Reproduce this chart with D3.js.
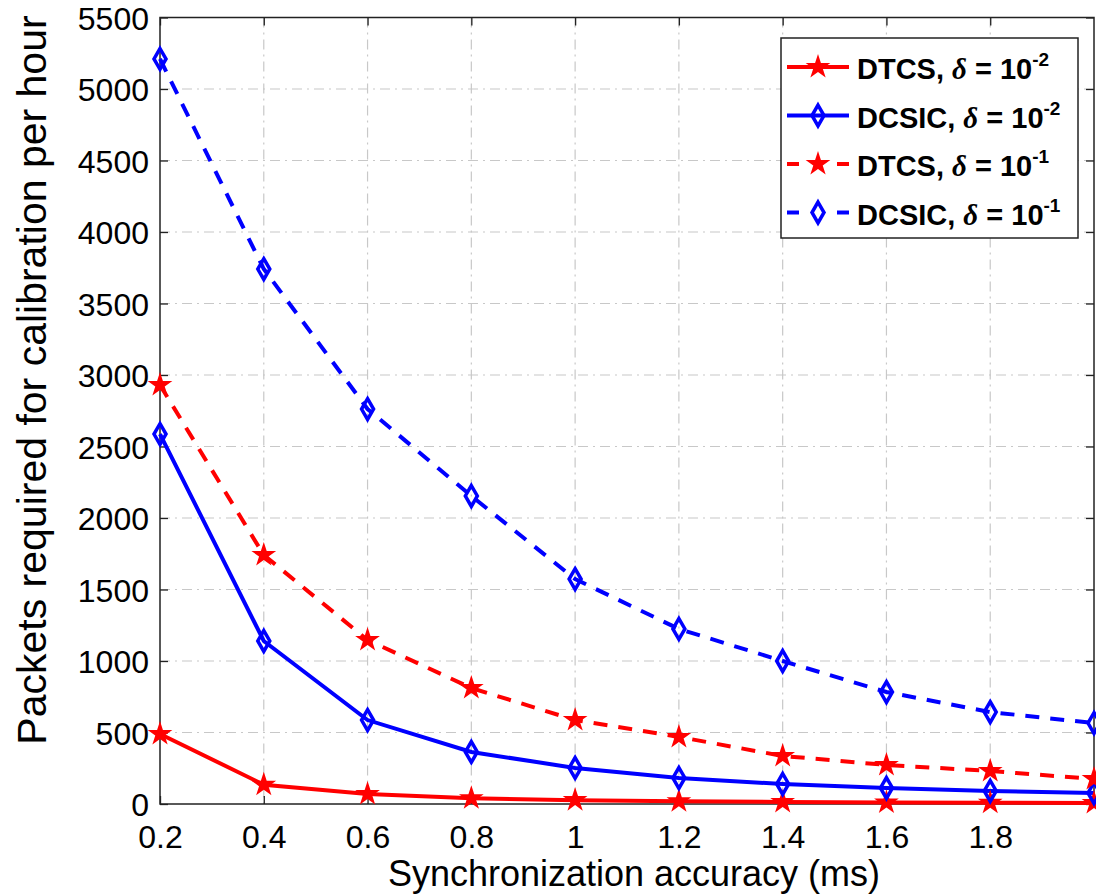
<!DOCTYPE html>
<html><head><meta charset="utf-8">
<script src="https://cdn.jsdelivr.net/npm/d3@7"></script>
<style>body{margin:0;background:#fff;} svg{display:block;}</style>
</head><body>
<svg id="c" width="1096" height="894"></svg>
<script>
const xValues = [0.2,0.4,0.6,0.8,1.0,1.2,1.4,1.6,1.8,2.0];
const dtcs2  = [490,135,70,40,27,19,14,11,9,7];
const dcsic2 = [2587,1140,587,364,252,182,140,112,91,77];
const dtcs1  = [2930,1741,1147,811,587,469,336,273,231,175];
const dcsic1 = [5210,3741,2762,2154,1573,1224,1000,783,643,566];
const xTicks = [0.2,0.4,0.6,0.8,1,1.2,1.4,1.6,1.8];
const yTicks = [0,500,1000,1500,2000,2500,3000,3500,4000,4500,5000,5500];
const seriesNames = ["DTCS, ","DCSIC, ","DTCS, ","DCSIC, "];
const seriesExp = ["-2","-2","-1","-1"];

const svg = d3.select("#c");
const L=160, R=1094, T=17.5, B=804;
const x = d3.scaleLinear().domain([0.2,2.0]).range([L,R]);
const y = d3.scaleLinear().domain([0,5500]).range([B,T]);

// grid
const g = svg.append("g");
g.selectAll(".vg").data(xTicks.slice(1)).enter().append("line")
  .attr("x1",d=>x(d)).attr("x2",d=>x(d)).attr("y1",T).attr("y2",B)
  .attr("stroke","#c8c8c8").attr("stroke-width",1.2).attr("stroke-dasharray","10,5,2,5");
g.selectAll(".hg").data(yTicks.slice(1,-1)).enter().append("line")
  .attr("x1",L).attr("x2",R).attr("y1",d=>y(d)).attr("y2",d=>y(d))
  .attr("stroke","#c8c8c8").attr("stroke-width",1.2).attr("stroke-dasharray","10,5,2,5");

// axes
const font = "'Liberation Sans', Arial, sans-serif";
const xAxis = d3.axisBottom(x).tickValues(xTicks).tickSizeInner(-8).tickSizeOuter(0).tickPadding(21)
  .tickFormat(d=>d3.format("~g")(d));
const xa = svg.append("g").attr("transform",`translate(0,${B})`).call(xAxis);
const yAxis = d3.axisLeft(y).tickValues(yTicks).tickSizeInner(-8).tickSizeOuter(0).tickPadding(11)
  .tickFormat(d3.format("d"));
const ya = svg.append("g").attr("transform",`translate(${L},0)`).call(yAxis);
// top & right ticks
svg.append("g").attr("transform",`translate(0,${T})`).call(d3.axisTop(x).tickValues(xTicks).tickSizeInner(-8).tickSizeOuter(0).tickFormat(""));
svg.append("g").attr("transform",`translate(${R},0)`).call(d3.axisRight(y).tickValues(yTicks).tickSizeInner(-8).tickSizeOuter(0).tickFormat(""));
svg.selectAll(".domain").remove();
svg.selectAll(".tick line").attr("stroke","#222").attr("stroke-width",1.3);
[xa,ya].forEach(a=>a.selectAll("text").attr("font-family",font).attr("font-size",32).attr("fill","#000"));
ya.selectAll("text").attr("dy","0.36em");
xa.selectAll("text").attr("dy","0.71em");
svg.append("rect").attr("x",L).attr("y",T).attr("width",R-L).attr("height",B-T)
  .attr("fill","none").attr("stroke","#222").attr("stroke-width",1.5);

// labels
svg.append("text").attr("x",634).attr("y",886).attr("text-anchor","middle")
  .attr("font-family",font).attr("font-size",36).text("Synchronization accuracy (ms)");
svg.append("text").attr("transform","translate(46,380) rotate(-90)").attr("text-anchor","middle")
  .attr("font-family",font).attr("font-size",41).text("Packets required for calibration per hour");

// series
const series = [
  {v:dtcs2, color:"#ff0000", dash:null, marker:"star"},
  {v:dcsic2, color:"#0000ff", dash:null, marker:"diamond"},
  {v:dtcs1, color:"#ff0000", dash:"14,11", marker:"star"},
  {v:dcsic1, color:"#0000ff", dash:"14,11", marker:"diamond"}
];
const star = d3.symbol().type(d3.symbolStar).size(190);
const diamond = d3.symbol().type(d3.symbolDiamond).size(125);
const line = d3.line().x((d,i)=>x(xValues[i])).y(d=>y(d));
const plot = svg.append("g");
series.forEach(s=>{
  plot.append("path").datum(s.v).attr("d",line).attr("fill","none").attr("stroke",s.color)
    .attr("stroke-width",4).attr("stroke-dasharray",s.dash);
});
function drawMarker(sel, m, color){
  if(m==="star") sel.attr("d",star).attr("fill",color).attr("stroke","none");
  else sel.attr("d",diamond).attr("fill","none").attr("stroke",color).attr("stroke-width",3.5);
}
series.forEach(s=>{
  plot.selectAll(null).data(s.v).enter().append("path")
    .attr("transform",(d,i)=>`translate(${x(xValues[i])},${y(d)})`)
    .call(sel=>drawMarker(sel,s.marker,s.color));
});

// legend
const lg = svg.append("g");
lg.append("rect").attr("x",781).attr("y",38).attr("width",297).attr("height",200)
  .attr("fill","#fff").attr("stroke","#222").attr("stroke-width",1.5);
series.forEach((s,i)=>{
  const cy = 67 + i*48.5;
  if(s.dash){
    lg.append("line").attr("x1",787).attr("x2",799).attr("y1",cy).attr("y2",cy).attr("stroke",s.color).attr("stroke-width",4);
    lg.append("line").attr("x1",837).attr("x2",849).attr("y1",cy).attr("y2",cy).attr("stroke",s.color).attr("stroke-width",4);
  } else {
    lg.append("line").attr("x1",787).attr("x2",849).attr("y1",cy).attr("y2",cy).attr("stroke",s.color).attr("stroke-width",4);
  }
  lg.append("path").attr("transform",`translate(818,${cy})`).call(sel=>drawMarker(sel,s.marker,s.color));
  const t = lg.append("text").attr("x",857).attr("y",cy+12).attr("font-family",font)
    .attr("font-size",29).attr("font-weight","bold");
  t.append("tspan").text(seriesNames[i]);
  t.append("tspan").attr("font-family","'Liberation Serif', 'Times New Roman', serif").attr("font-style","italic").text("δ");
  t.append("tspan").text(" = 10");
  t.append("tspan").attr("font-size",19).attr("dy",-13).text(seriesExp[i]);
});
</script>
</body></html>
